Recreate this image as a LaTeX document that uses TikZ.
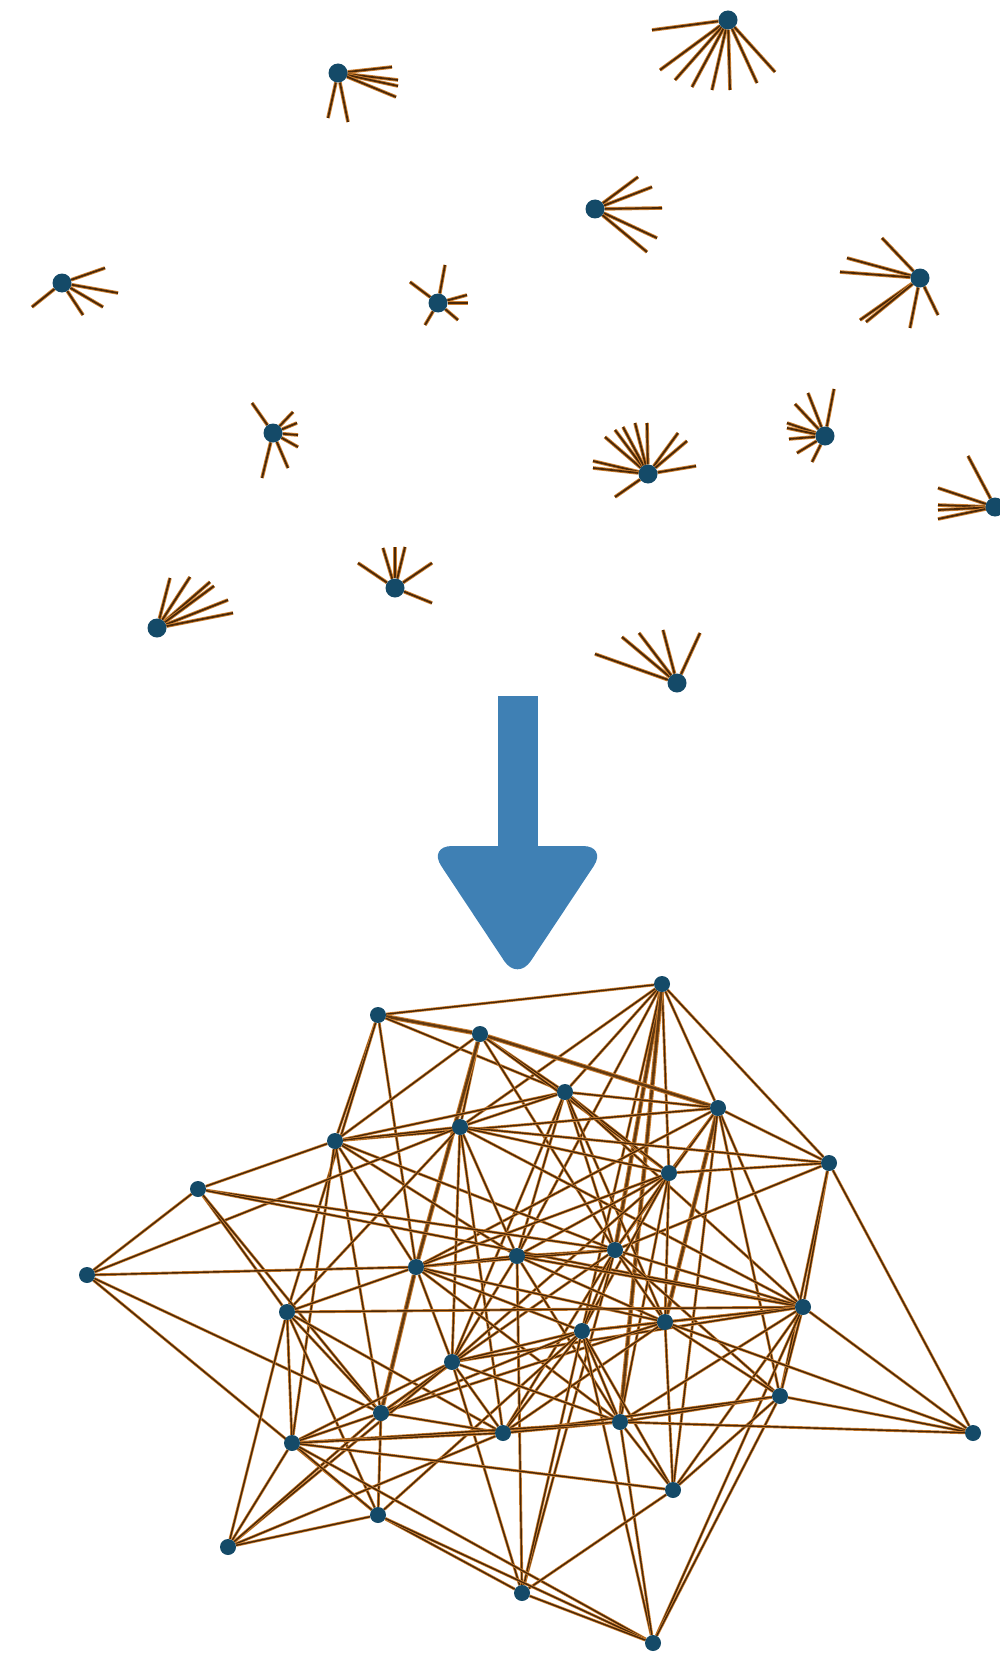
\documentclass[tikz,border=0pt]{standalone}
\usepackage{tikz}
\usetikzlibrary{backgrounds}

\definecolor{nodeblue}{RGB}{20,74,104}
\definecolor{edgecore}{RGB}{74,40,8}
\definecolor{edgerim}{RGB}{206,128,48}
\definecolor{arrowblue}{RGB}{63,128,180}

\begin{document}
\begin{tikzpicture}[x=1pt, y=-1pt,
    dot/.style={circle, fill=nodeblue, inner sep=0pt, minimum size=16pt},
    hub/.style={circle, fill=nodeblue, inner sep=0pt, minimum size=19pt},
    link/.style={draw=edgerim, line width=0.75pt, double=edgecore, double distance=1.4pt},
    heavy/.style={draw=edgerim, line width=1pt, double=edgecore!80!edgerim, double distance=2.6pt},
    stub/.style={draw=edgerim, line width=0.9pt, double=edgecore, double distance=1.8pt}]

    \useasboundingbox (0,0) rectangle (999,1653);

    % Define the isolated hubs (each one only has loose ends)
    \node (hA) [hub] at (338,73) {};
    \node (hB) [hub] at (62,283) {};
    \node (hC) [hub] at (438,303) {};
    \node (hD) [hub] at (728,20) {};
    \node (hE) [hub] at (595,209) {};
    \node (hF) [hub] at (920,278) {};
    \node (hG) [hub] at (273,433) {};
    \node (hH) [hub] at (157,628) {};
    \node (hI) [hub] at (395,588) {};
    \node (hJ) [hub] at (648,474) {};
    \node (hK) [hub] at (825,436) {};
    \node (hL) [hub] at (995,507) {};
    \node (hM) [hub] at (677,683) {};

    % Loose ends of the hubs
    \begin{scope}[on background layer]
    \coordinate (A1) at (392,67);  \draw[stub] (hA) -- (A1);
    \coordinate (A2) at (398,80);  \draw[stub] (hA) -- (A2);
    \coordinate (A3) at (398,86);  \draw[stub] (hA) -- (A3);
    \coordinate (A4) at (396,97);  \draw[stub] (hA) -- (A4);
    \coordinate (A5) at (328,118); \draw[stub] (hA) -- (A5);
    \coordinate (A6) at (348,122); \draw[stub] (hA) -- (A6);

    \coordinate (B1) at (105,268); \draw[stub] (hB) -- (B1);
    \coordinate (B2) at (118,293); \draw[stub] (hB) -- (B2);
    \coordinate (B3) at (103,307); \draw[stub] (hB) -- (B3);
    \coordinate (B4) at (83,315);  \draw[stub] (hB) -- (B4);
    \coordinate (B5) at (32,307);  \draw[stub] (hB) -- (B5);

    \coordinate (C1) at (445,265); \draw[stub] (hC) -- (C1);
    \coordinate (C2) at (410,282); \draw[stub] (hC) -- (C2);
    \coordinate (C3) at (467,295); \draw[stub] (hC) -- (C3);
    \coordinate (C4) at (468,303); \draw[stub] (hC) -- (C4);
    \coordinate (C5) at (458,320); \draw[stub] (hC) -- (C5);
    \coordinate (C6) at (425,325); \draw[stub] (hC) -- (C6);

    \coordinate (D1) at (652,30);  \draw[stub] (hD) -- (D1);
    \coordinate (D2) at (660,70);  \draw[stub] (hD) -- (D2);
    \coordinate (D3) at (675,80);  \draw[stub] (hD) -- (D3);
    \coordinate (D4) at (692,87);  \draw[stub] (hD) -- (D4);
    \coordinate (D5) at (712,90);  \draw[stub] (hD) -- (D5);
    \coordinate (D6) at (730,90);  \draw[stub] (hD) -- (D6);
    \coordinate (D7) at (757,83);  \draw[stub] (hD) -- (D7);
    \coordinate (D8) at (775,72);  \draw[stub] (hD) -- (D8);

    \coordinate (E1) at (638,177); \draw[stub] (hE) -- (E1);
    \coordinate (E2) at (652,187); \draw[stub] (hE) -- (E2);
    \coordinate (E3) at (662,208); \draw[stub] (hE) -- (E3);
    \coordinate (E4) at (657,238); \draw[stub] (hE) -- (E4);
    \coordinate (E5) at (647,252); \draw[stub] (hE) -- (E5);

    \coordinate (F1) at (882,238); \draw[stub] (hF) -- (F1);
    \coordinate (F2) at (847,258); \draw[stub] (hF) -- (F2);
    \coordinate (F3) at (840,272); \draw[stub] (hF) -- (F3);
    \coordinate (F4) at (860,320); \draw[stub] (hF) -- (F4);
    \coordinate (F5) at (866,322); \draw[stub] (hF) -- (F5);
    \coordinate (F6) at (910,328); \draw[stub] (hF) -- (F6);
    \coordinate (F7) at (938,315); \draw[stub] (hF) -- (F7);

    \coordinate (G1) at (252,403); \draw[stub] (hG) -- (G1);
    \coordinate (G2) at (293,412); \draw[stub] (hG) -- (G2);
    \coordinate (G3) at (297,423); \draw[stub] (hG) -- (G3);
    \coordinate (G4) at (298,435); \draw[stub] (hG) -- (G4);
    \coordinate (G5) at (298,447); \draw[stub] (hG) -- (G5);
    \coordinate (G6) at (288,468); \draw[stub] (hG) -- (G6);
    \coordinate (G7) at (262,478); \draw[stub] (hG) -- (G7);

    \coordinate (H1) at (170,578); \draw[stub] (hH) -- (H1);
    \coordinate (H2) at (190,577); \draw[stub] (hH) -- (H2);
    \coordinate (H3) at (210,582); \draw[stub] (hH) -- (H3);
    \coordinate (H4) at (214,586); \draw[stub] (hH) -- (H4);
    \coordinate (H5) at (228,600); \draw[stub] (hH) -- (H5);
    \coordinate (H6) at (233,613); \draw[stub] (hH) -- (H6);

    \coordinate (I1) at (358,563); \draw[stub] (hI) -- (I1);
    \coordinate (I2) at (383,548); \draw[stub] (hI) -- (I2);
    \coordinate (I3) at (395,547); \draw[stub] (hI) -- (I3);
    \coordinate (I4) at (405,547); \draw[stub] (hI) -- (I4);
    \coordinate (I5) at (432,563); \draw[stub] (hI) -- (I5);
    \coordinate (I6) at (432,603); \draw[stub] (hI) -- (I6);

    \coordinate (J1) at (593,461); \draw[stub] (hJ) -- (J1);
    \coordinate (J2) at (593,468); \draw[stub] (hJ) -- (J2);
    \coordinate (J3) at (605,437); \draw[stub] (hJ) -- (J3);
    \coordinate (J4) at (615,430); \draw[stub] (hJ) -- (J4);
    \coordinate (J5) at (623,427); \draw[stub] (hJ) -- (J5);
    \coordinate (J6) at (635,423); \draw[stub] (hJ) -- (J6);
    \coordinate (J7) at (647,423); \draw[stub] (hJ) -- (J7);
    \coordinate (J8) at (678,433); \draw[stub] (hJ) -- (J8);
    \coordinate (J9) at (687,441); \draw[stub] (hJ) -- (J9);
    \coordinate (J10) at (696,466); \draw[stub] (hJ) -- (J10);
    \coordinate (J11) at (615,497); \draw[stub] (hJ) -- (J11);

    \coordinate (K1) at (834,389); \draw[stub] (hK) -- (K1);
    \coordinate (K2) at (808,393); \draw[stub] (hK) -- (K2);
    \coordinate (K3) at (795,404); \draw[stub] (hK) -- (K3);
    \coordinate (K4) at (787,423); \draw[stub] (hK) -- (K4);
    \coordinate (K5) at (787,428); \draw[stub] (hK) -- (K5);
    \coordinate (K6) at (789,439); \draw[stub] (hK) -- (K6);
    \coordinate (K7) at (797,453); \draw[stub] (hK) -- (K7);
    \coordinate (K8) at (812,462); \draw[stub] (hK) -- (K8);

    \coordinate (L1) at (968,456); \draw[stub] (hL) -- (L1);
    \coordinate (L2) at (938,488); \draw[stub] (hL) -- (L2);
    \coordinate (L3) at (938,505); \draw[stub] (hL) -- (L3);
    \coordinate (L4) at (938,510); \draw[stub] (hL) -- (L4);
    \coordinate (L5) at (938,519); \draw[stub] (hL) -- (L5);

    \coordinate (M1) at (595,654); \draw[stub] (hM) -- (M1);
    \coordinate (M2) at (622,637); \draw[stub] (hM) -- (M2);
    \coordinate (M3) at (639,633); \draw[stub] (hM) -- (M3);
    \coordinate (M4) at (663,630); \draw[stub] (hM) -- (M4);
    \coordinate (M5) at (700,633); \draw[stub] (hM) -- (M5);
    \end{scope}

    % Big arrow in the middle
    \fill[arrowblue] (498,696) rectangle (538,852);
    \fill[arrowblue, rounded corners=24pt] (428,846) -- (607,846) -- (517.5,981) -- cycle;

    % Define nodes of the connected network
    \node (v1) [dot] at (662,984) {};
    \node (v2) [dot] at (378,1015) {};
    \node (v3) [dot] at (480,1034) {};
    \node (v4) [dot] at (565,1092) {};
    \node (v5) [dot] at (718,1108) {};
    \node (v6) [dot] at (335,1141) {};
    \node (v7) [dot] at (460,1127) {};
    \node (v8) [dot] at (829,1163) {};
    \node (v9) [dot] at (669,1173) {};
    \node (v10) [dot] at (198,1189) {};
    \node (v11) [dot] at (87,1275) {};
    \node (v12) [dot] at (615,1250) {};
    \node (v13) [dot] at (517,1256) {};
    \node (v14) [dot] at (416,1267) {};
    \node (v15) [dot] at (287,1312) {};
    \node (v16) [dot] at (803,1307) {};
    \node (v17) [dot] at (665,1322) {};
    \node (v18) [dot] at (582,1331) {};
    \node (v19) [dot] at (452,1362) {};
    \node (v20) [dot] at (780,1396) {};
    \node (v21) [dot] at (381,1413) {};
    \node (v22) [dot] at (620,1422) {};
    \node (v23) [dot] at (503,1433) {};
    \node (v24) [dot] at (973,1433) {};
    \node (v25) [dot] at (292,1443) {};
    \node (v26) [dot] at (673,1490) {};
    \node (v27) [dot] at (378,1515) {};
    \node (v28) [dot] at (228,1547) {};
    \node (v29) [dot] at (522,1593) {};
    \node (v30) [dot] at (653,1643) {};

    % Draw the links between the nodes
    \begin{scope}[on background layer]
    \draw[link] (v1) -- (v2);
    \draw[link] (v1) -- (v4);
    \draw[link] (v1) -- (v5);
    \draw[link] (v1) -- (v7);
    \draw[link] (v1) -- (v8);
    \draw[link] (v1) -- (v9);
    \draw[heavy] (v1) -- (v12);
    \draw[link] (v1) -- (v13);
    \draw[link] (v1) -- (v18);
    \draw[heavy] (v1) -- (v22);
    \draw[heavy] (v2) -- (v3);
    \draw[link] (v2) -- (v4);
    \draw[link] (v2) -- (v6);
    \draw[link] (v2) -- (v14);
    \draw[link] (v2) -- (v15);
    \draw[link] (v3) -- (v4);
    \draw[heavy] (v3) -- (v5);
    \draw[link] (v3) -- (v6);
    \draw[link] (v3) -- (v7);
    \draw[link] (v3) -- (v9);
    \draw[link] (v3) -- (v12);
    \draw[heavy] (v3) -- (v14);
    \draw[link] (v4) -- (v5);
    \draw[link] (v4) -- (v6);
    \draw[link] (v4) -- (v7);
    \draw[link] (v4) -- (v9);
    \draw[link] (v4) -- (v12);
    \draw[link] (v4) -- (v13);
    \draw[link] (v4) -- (v16);
    \draw[link] (v4) -- (v17);
    \draw[link] (v4) -- (v19);
    \draw[link] (v5) -- (v6);
    \draw[link] (v5) -- (v8);
    \draw[link] (v5) -- (v9);
    \draw[link] (v5) -- (v12);
    \draw[link] (v5) -- (v14);
    \draw[link] (v5) -- (v16);
    \draw[heavy] (v5) -- (v17);
    \draw[link] (v5) -- (v20);
    \draw[link] (v5) -- (v26);
    \draw[link] (v6) -- (v7);
    \draw[link] (v6) -- (v10);
    \draw[link] (v6) -- (v12);
    \draw[link] (v6) -- (v13);
    \draw[link] (v6) -- (v14);
    \draw[link] (v6) -- (v21);
    \draw[link] (v6) -- (v25);
    \draw[link] (v7) -- (v8);
    \draw[link] (v7) -- (v9);
    \draw[link] (v7) -- (v11);
    \draw[link] (v7) -- (v13);
    \draw[link] (v7) -- (v15);
    \draw[link] (v7) -- (v16);
    \draw[link] (v7) -- (v19);
    \draw[link] (v7) -- (v23);
    \draw[link] (v8) -- (v9);
    \draw[link] (v8) -- (v12);
    \draw[link] (v8) -- (v16);
    \draw[link] (v8) -- (v20);
    \draw[link] (v8) -- (v24);
    \draw[link] (v9) -- (v12);
    \draw[link] (v9) -- (v13);
    \draw[link] (v9) -- (v14);
    \draw[link] (v9) -- (v17);
    \draw[link] (v9) -- (v18);
    \draw[link] (v9) -- (v19);
    \draw[link] (v9) -- (v22);
    \draw[link] (v10) -- (v11);
    \draw[link] (v10) -- (v12);
    \draw[link] (v10) -- (v15);
    \draw[link] (v10) -- (v16);
    \draw[link] (v10) -- (v21);
    \draw[link] (v11) -- (v14);
    \draw[link] (v11) -- (v21);
    \draw[link] (v11) -- (v27);
    \draw[link] (v12) -- (v13);
    \draw[link] (v12) -- (v14);
    \draw[link] (v12) -- (v16);
    \draw[link] (v12) -- (v17);
    \draw[link] (v12) -- (v18);
    \draw[link] (v12) -- (v20);
    \draw[link] (v12) -- (v21);
    \draw[link] (v12) -- (v23);
    \draw[link] (v12) -- (v29);
    \draw[link] (v13) -- (v14);
    \draw[link] (v13) -- (v16);
    \draw[link] (v13) -- (v17);
    \draw[link] (v13) -- (v19);
    \draw[link] (v13) -- (v22);
    \draw[link] (v13) -- (v29);
    \draw[link] (v14) -- (v15);
    \draw[link] (v14) -- (v17);
    \draw[link] (v14) -- (v18);
    \draw[link] (v14) -- (v19);
    \draw[heavy] (v14) -- (v21);
    \draw[link] (v14) -- (v22);
    \draw[link] (v15) -- (v16);
    \draw[link] (v15) -- (v21);
    \draw[link] (v15) -- (v23);
    \draw[link] (v15) -- (v25);
    \draw[link] (v15) -- (v27);
    \draw[link] (v15) -- (v28);
    \draw[link] (v16) -- (v17);
    \draw[link] (v16) -- (v18);
    \draw[link] (v16) -- (v19);
    \draw[link] (v16) -- (v20);
    \draw[link] (v16) -- (v22);
    \draw[link] (v16) -- (v24);
    \draw[link] (v16) -- (v26);
    \draw[link] (v16) -- (v30);
    \draw[link] (v17) -- (v18);
    \draw[link] (v17) -- (v20);
    \draw[link] (v17) -- (v21);
    \draw[link] (v17) -- (v23);
    \draw[link] (v17) -- (v24);
    \draw[link] (v17) -- (v26);
    \draw[link] (v18) -- (v19);
    \draw[link] (v18) -- (v21);
    \draw[link] (v18) -- (v22);
    \draw[link] (v18) -- (v23);
    \draw[link] (v18) -- (v26);
    \draw[link] (v18) -- (v27);
    \draw[link] (v18) -- (v29);
    \draw[link] (v18) -- (v30);
    \draw[link] (v19) -- (v21);
    \draw[link] (v19) -- (v22);
    \draw[link] (v19) -- (v23);
    \draw[link] (v19) -- (v25);
    \draw[link] (v19) -- (v28);
    \draw[link] (v19) -- (v29);
    \draw[link] (v20) -- (v22);
    \draw[link] (v20) -- (v23);
    \draw[link] (v20) -- (v24);
    \draw[link] (v20) -- (v26);
    \draw[link] (v20) -- (v30);
    \draw[link] (v21) -- (v23);
    \draw[link] (v21) -- (v25);
    \draw[link] (v21) -- (v27);
    \draw[link] (v21) -- (v28);
    \draw[link] (v22) -- (v23);
    \draw[link] (v22) -- (v24);
    \draw[link] (v22) -- (v25);
    \draw[link] (v22) -- (v26);
    \draw[link] (v22) -- (v30);
    \draw[link] (v23) -- (v25);
    \draw[link] (v23) -- (v28);
    \draw[link] (v25) -- (v26);
    \draw[link] (v25) -- (v27);
    \draw[link] (v25) -- (v28);
    \draw[link] (v25) -- (v30);
    \draw[link] (v26) -- (v29);
    \draw[link] (v27) -- (v28);
    \draw[link] (v27) -- (v29);
    \draw[link] (v27) -- (v30);
    \draw[link] (v29) -- (v30);
    \end{scope}

\end{tikzpicture}
\end{document}
